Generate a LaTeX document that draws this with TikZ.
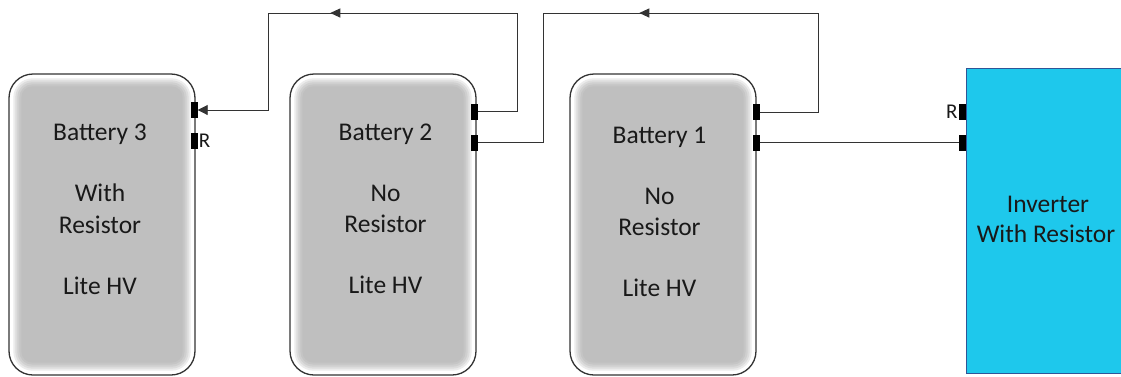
\documentclass[tikz,border=0pt]{standalone}
\usepackage{fontspec}
\setmainfont{Carlito}
\usetikzlibrary{arrows.meta,decorations.markings}
\definecolor{bgray}{RGB}{191,191,191}
\definecolor{invfill}{RGB}{30,200,236}
\definecolor{invdraw}{RGB}{47,85,151}
\definecolor{txt}{RGB}{25,25,25}
\begin{document}
\begin{tikzpicture}[x=1pt,y=-1pt,
  battery/.style={draw=black!80, line width=1.3pt, fill=white, rounded corners=24pt,
    minimum width=186pt, minimum height=301pt, inner sep=0pt},
  term/.style={fill=black, minimum width=7pt, minimum height=16pt, inner sep=0pt},
  lbl/.style={anchor=base, text=txt, inner sep=0pt, font=\fontsize{25.5}{30}\selectfont},
  rlbl/.style={text=txt, inner sep=1pt, font=\fontsize{21}{25}\selectfont},
  wire/.style={draw=black!80, line width=0.9pt},
  midarrow/.style={postaction={decorate}, decoration={markings,
    mark=at position #1 with {\arrow{Triangle[length=10pt,width=9pt]}}}},
  inv/.style={draw=invdraw, line width=1pt, fill=invfill, minimum width=164pt,
    minimum height=305pt, inner sep=0pt}]
\useasboundingbox (0,0) rectangle (1121,376);
\fill[white] (0,0) rectangle (1121,376);

% batteries
\foreach \nm/\cx in {b3/102, b2/383, b1/663} {
  \node[battery] (\nm) at (\cx,224.5) {};
  \foreach \d/\c [evaluate=\d as \r using 24-\d] in {3/0,5/30,7/55,9/75,11/90,13/100}
    \fill[bgray!\c!white, rounded corners=\r pt]
      ([xshift=\d pt,yshift=-\d pt]\nm.north west) rectangle ([xshift=-\d pt,yshift=\d pt]\nm.south east);
}

% battery texts
\node[lbl] (b3l1) at (100,140) {Battery 3};
\node[lbl] (b3l2) at (100,201) {With};
\node[lbl] (b3l3) at (100,233) {Resistor};
\node[lbl] (b3l4) at (100,294) {Lite HV};

\node[lbl] (b2l1) at (385.5,140) {Battery 2};
\node[lbl] (b2l2) at (385.5,201) {No};
\node[lbl] (b2l3) at (385.5,232) {Resistor};
\node[lbl] (b2l4) at (385.5,293) {Lite HV};

\node[lbl] (b1l1) at (659.5,143) {Battery 1};
\node[lbl] (b1l2) at (659.5,204) {No};
\node[lbl] (b1l3) at (659.5,235) {Resistor};
\node[lbl] (b1l4) at (659.5,296) {Lite HV};

% inverter
\node[inv] (inv) at (1048,220.5) {};
\node[lbl] (invl1) at (1048,212) {Inverter};
\node[lbl] (invl2) at (1046,242) {With Resistor};

% terminals
\node[term] (t3a) at (194,110) {};
\node[term] (t3b) at (194,140.5) {};
\node[term] (t2a) at (474,111.5) {};
\node[term] (t2b) at (474,142.5) {};
\node[term] (t1a) at (756.5,112) {};
\node[term] (t1b) at (756.5,142.5) {};
\node[term] (tia) at (962.5,111.5) {};
\node[term] (tib) at (962.5,142.5) {};

% R labels
\node[rlbl, anchor=west] (r3) at (t3b.east) {R};
\node[rlbl, anchor=east] (ri) at (tia.west) {R};

% wires
\coordinate (p2) at (517,13);
\coordinate (p3) at (268,13);
\coordinate (q2) at (818,13);
\coordinate (q3) at (543,13);

\draw[wire, -{Triangle[length=10pt,width=10pt]}] (t2a.east) -| (p2) -- (p3) |- (t3a.east);
\draw[wire, midarrow=0.75] (p2) -- (p3);
\draw[wire] (t1a.east) -| (q2) -- (q3) |- (t2b.east);
\draw[wire, midarrow=0.65] (q2) -- (q3);
\draw[wire] (t1b.east) -- (tib.west);
\end{tikzpicture}
\end{document}
